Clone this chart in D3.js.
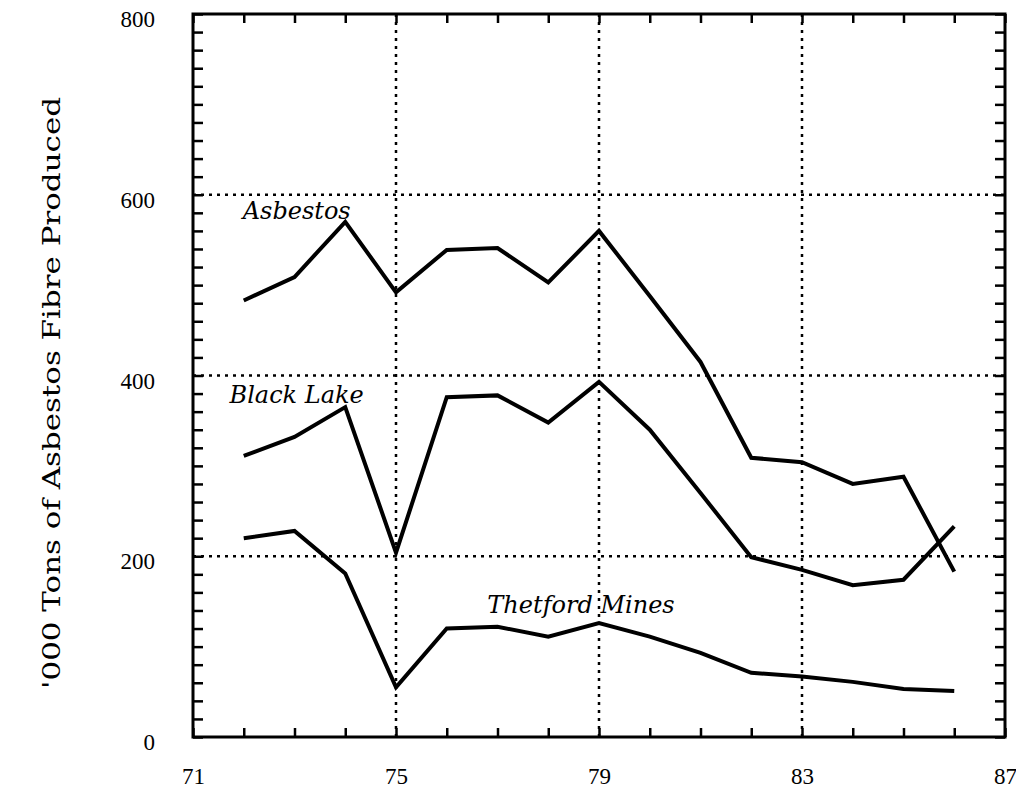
<!DOCTYPE html>
<meta charset="utf-8">
<style>
body { margin: 0; background: #fff; }
.lbl { font: italic 24px "DejaVu Serif", "Liberation Serif", serif; }
.ytitle { font: 25px "DejaVu Serif", "Liberation Serif", serif; }
.grid line { stroke: #000; stroke-width: 2.5; stroke-dasharray: 3,5; }
</style>
<svg width="1016" height="788"></svg>
<script src="https://cdn.jsdelivr.net/npm/d3@7"></script>
<script>

var years = [72, 73, 74, 75, 76, 77, 78, 79, 80, 81, 82, 83, 84, 85, 86];
var asbestos = [483, 509, 570, 492, 539, 541, 503, 560, 488, 415, 309, 304, 280, 288, 183];
var blackLake = [311, 332, 365, 204, 376, 378, 348, 393, 340, 270, 199, 185, 168, 174, 233];
var thetford = [220, 228, 181, 55, 120, 122, 111, 126, 111, 93, 71, 67, 61, 53, 51];
var xLabels = [71, 75, 79, 83, 87];
var yLabels = [0, 200, 400, 600, 800];
var gridX = [75, 79, 83];
var gridY = [200, 400, 600];

var svg = d3.select("svg"),
    pL = 193, pR = 1005, pT = 14, pB = 737;

var x = d3.scaleLinear().domain([71, 87]).range([pL, pR]);
var y = d3.scaleLinear().domain([0, 800]).range([pB, pT]);

// gridlines
var grid = svg.append("g").attr("class", "grid");
grid.selectAll(".gx").data(gridX).enter().append("line")
    .attr("x1", d => x(d)).attr("x2", d => x(d))
    .attr("y1", pT).attr("y2", pB);
grid.selectAll(".gy").data(gridY).enter().append("line")
    .attr("y1", d => y(d)).attr("y2", d => y(d))
    .attr("x1", pL).attr("x2", pR);

// inward minor ticks on all four sides
var minorY = d3.range(0, 801, 20), minorX = d3.range(71, 88, 1);
svg.append("g").attr("transform", "translate(" + pL + ",0)")
    .call(d3.axisRight(y).tickValues(minorY).tickSize(10).tickFormat(""));
svg.append("g").attr("transform", "translate(" + pR + ",0)")
    .call(d3.axisLeft(y).tickValues(minorY).tickSize(10).tickFormat(""));
svg.append("g").attr("transform", "translate(0," + pB + ")")
    .call(d3.axisTop(x).tickValues(minorX).tickSize(9).tickFormat(""));
svg.append("g").attr("transform", "translate(0," + pT + ")")
    .call(d3.axisBottom(x).tickValues(minorX).tickSize(9).tickFormat(""));
svg.selectAll(".domain").remove();
svg.selectAll(".tick line").attr("stroke", "#000").attr("stroke-width", 2.5);

// tick labels
svg.append("g").attr("transform", "translate(" + (pL - 38) + ",0)")
    .call(d3.axisLeft(y).tickValues(yLabels).tickSize(0).tickFormat(d3.format("d")))
    .call(g => g.select(".domain").remove())
    .selectAll("text").attr("dy", "0.55em").attr("x", 0)
    .attr("font-family", "Liberation Serif, serif").attr("font-size", 23).attr("fill", "#000");
svg.append("g").attr("transform", "translate(0," + (pB + 27) + ")")
    .call(d3.axisBottom(x).tickValues(xLabels).tickSize(0))
    .call(g => g.select(".domain").remove())
    .selectAll("text").attr("dy", "0.75em")
    .attr("font-family", "Liberation Serif, serif").attr("font-size", 23).attr("fill", "#000");

// frame
svg.append("rect")
    .attr("x", pL).attr("y", pT)
    .attr("width", pR - pL).attr("height", pB - pT)
    .attr("fill", "none").attr("stroke", "#000").attr("stroke-width", 3);

// series
var line = d3.line().x((d, i) => x(years[i])).y(d => y(d));
[asbestos, blackLake, thetford].forEach(function(s) {
  svg.append("path").datum(s).attr("d", line)
      .attr("fill", "none").attr("stroke", "#000")
      .attr("stroke-width", 4).attr("stroke-linejoin", "miter");
});

// series labels
svg.append("text").attr("class", "lbl").attr("x", x(71.98)).attr("y", 219).text("Asbestos");
svg.append("text").attr("class", "lbl").attr("x", x(71.72)).attr("y", 403).text("Black Lake");
svg.append("text").attr("class", "lbl").attr("x", x(76.8)).attr("y", 613).text("Thetford Mines");

// y title
svg.append("text").attr("class", "ytitle")
    .attr("transform", "translate(60,393) rotate(-90)")
    .attr("text-anchor", "middle")
    .attr("textLength", 592).attr("lengthAdjust", "spacingAndGlyphs")
    .text("'000 Tons of Asbestos Fibre Produced");

</script>
